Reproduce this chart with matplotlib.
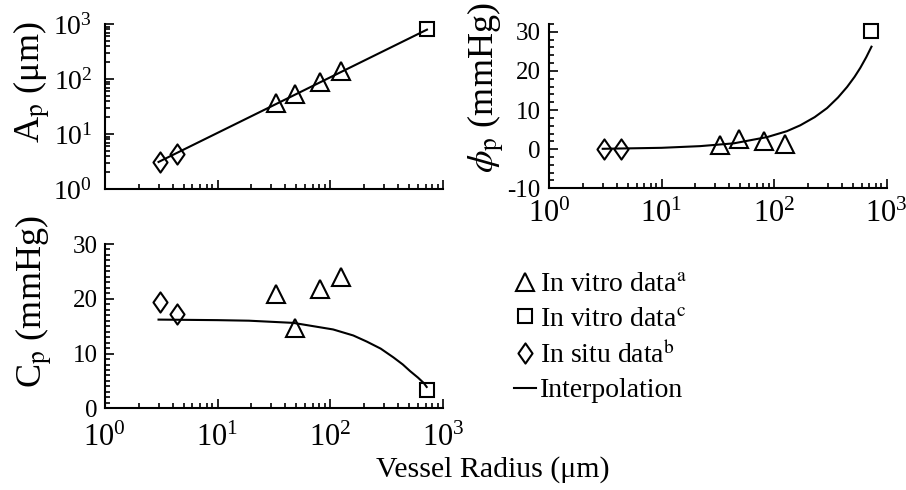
import matplotlib
matplotlib.use('Agg')
import matplotlib.pyplot as plt
from matplotlib.ticker import LogLocator, MultipleLocator, NullFormatter
from matplotlib.lines import Line2D
from matplotlib.path import Path

plt.rcParams['font.family'] = ['Liberation Serif', 'DejaVu Serif']
plt.rcParams['mathtext.fontset'] = 'stix'
plt.rcParams['axes.unicode_minus'] = False

# ---------------- data ----------------
r_vitro_a = [33, 49, 81, 125]
r_vitro_c = [725]
r_situ = [3.1, 4.4]

A_vitro_a = [36, 53, 89, 140]
A_vitro_c = [810]
A_situ = [3.1, 4.4]

phi_vitro_a = [1.1, 2.5, 2.0, 1.4]
phi_vitro_c = [30.3]
phi_situ = [0.0, 0.0]

C_vitro_a = [20.8, 14.7, 21.8, 24.0]
C_vitro_c = [3.4]
C_situ = [19.5, 17.3]

# interpolation curves
A_interp_r = [3.0, 720]
A_interp = [3.1, 790]

phi_interp_r = [3, 10, 22, 44, 87, 130, 171, 230, 296, 370, 446, 520, 585, 660, 735]
phi_interp = [0.1, 0.35, 0.78, 1.5, 3.1, 4.6, 6.1, 8.2, 10.5, 13.2, 15.9, 18.5, 20.8, 23.5, 26.2]

C_interp_r = [3, 10, 19, 47, 106, 160, 210, 280, 363, 440, 510, 600, 676, 716]
C_interp = [16.2, 16.1, 16.0, 15.6, 14.4, 13.3, 12.2, 10.9, 9.3, 8.0, 6.8, 5.6, 4.6, 3.9]

legend_labels = ['In vitro data$^{\\rm a}$', 'In vitro data$^{\\rm c}$',
                 'In situ data$^{\\rm b}$', 'Interpolation']

# ---------------- figure ----------------
fig = plt.figure(figsize=(9.06, 4.9), dpi=100)
axA = fig.add_axes([0.1156, 0.6143, 0.3734, 0.3367])
axP = fig.add_axes([0.606, 0.6157, 0.3725, 0.3353])
axC = fig.add_axes([0.1156, 0.1667, 0.3734, 0.3353])

diamond_path = Path([(0, 1), (0.7, 0), (0, -1), (-0.7, 0), (0, 1)],
                    [Path.MOVETO, Path.LINETO, Path.LINETO, Path.LINETO, Path.CLOSEPOLY])

mk = dict(linestyle='none', color='black', markerfacecolor='none',
          markeredgewidth=1.5, clip_on=False, zorder=3)
tri = dict(marker='^', markersize=12.5)
sq = dict(marker='s', markersize=9.5)
dia = dict(marker=diamond_path, markersize=14.5)


def style(ax, xlabels=True, xpad=5, ypad=6):
    for s in ['top', 'right']:
        ax.spines[s].set_visible(False)
    for s in ['left', 'bottom']:
        ax.spines[s].set_linewidth(1.5)
    ax.set_xscale('log')
    ax.set_xlim(1, 1000)
    ax.xaxis.set_major_locator(LogLocator(base=10, numticks=10))
    ax.xaxis.set_minor_locator(LogLocator(base=10, subs=range(2, 10), numticks=20))
    ax.xaxis.set_minor_formatter(NullFormatter())
    ax.tick_params(which='both', direction='in', width=1.2)
    ax.tick_params(which='major', length=6.5)
    ax.tick_params(which='minor', length=3.5)
    ax.tick_params(axis='x', labelsize=22, pad=xpad)
    ax.tick_params(axis='y', labelsize=18, pad=ypad)
    if not xlabels:
        ax.xaxis.set_major_formatter(NullFormatter())


def draw(ax, rr, yy, ya, yc, ys):
    ax.plot(rr, yy, color='black', linewidth=1.5, zorder=2)
    ax.plot(r_vitro_a, ya, **tri, **mk)
    ax.plot(r_vitro_c, yc, **sq, **mk)
    ax.plot(r_situ, ys, **dia, **mk)


# A_p panel
draw(axA, A_interp_r, A_interp, A_vitro_a, A_vitro_c, A_situ)
style(axA, xlabels=False, ypad=9)
axA.set_yscale('log')
axA.set_ylim(1, 1000)
axA.yaxis.set_major_locator(LogLocator(base=10, numticks=10))
axA.yaxis.set_minor_locator(LogLocator(base=10, subs=range(2, 10), numticks=20))
axA.yaxis.set_minor_formatter(NullFormatter())
axA.tick_params(axis='y', labelsize=20)

# phi_p panel
draw(axP, phi_interp_r, phi_interp, phi_vitro_a, phi_vitro_c, phi_situ)
style(axP, xlabels=True, xpad=8.5, ypad=6)
axP.set_ylim(-10, 32)
axP.yaxis.set_major_locator(MultipleLocator(10))
axP.yaxis.set_minor_locator(MultipleLocator(2))

# C_p panel
draw(axC, C_interp_r, C_interp, C_vitro_a, C_vitro_c, C_situ)
style(axC, xlabels=True, xpad=11.5, ypad=5)
axC.set_ylim(0, 30)
axC.yaxis.set_major_locator(MultipleLocator(10))
axC.yaxis.set_minor_locator(MultipleLocator(1))

# axis labels
fig.text(32 / 906, 1 - 82 / 490, 'A$_{\\rm p}$ (μm)', rotation=90,
         ha='center', va='center', fontsize=26)
fig.text(486 / 906, 1 - 88 / 490, '$\\phi_{\\rm p}$ (mmHg)', rotation=90,
         ha='center', va='center', fontsize=26)
fig.text(34 / 906, 1 - 302 / 490, 'C$_{\\rm p}$ (mmHg)', rotation=90,
         ha='center', va='center', fontsize=26)
fig.text(493 / 906, 1 - 470 / 490, 'Vessel Radius (μm)',
         ha='center', va='center', fontsize=21.5)

# legend
hk = dict(color='black', markerfacecolor='none', markeredgewidth=1.5, linestyle='none')
handles = [Line2D([], [], **hk, **tri),
           Line2D([], [], **hk, **sq),
           Line2D([], [], **hk, **dia),
           Line2D([], [], color='black', linewidth=1.5)]
fig.legend(handles, legend_labels, loc='upper left',
           bbox_to_anchor=(514 / 906, 1 - 272 / 490), frameon=False,
           fontsize=20, handlelength=0.8, handletextpad=0.15,
           labelspacing=0.33, borderpad=0, borderaxespad=0)

fig.savefig('out.png', dpi=100)
